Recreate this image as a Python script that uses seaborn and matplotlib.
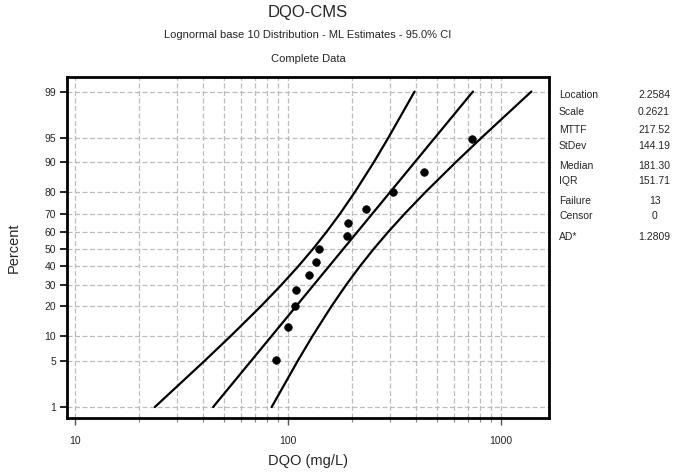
import numpy as np
import matplotlib
matplotlib.use("Agg")
import matplotlib.pyplot as plt
import seaborn as sns
import pandas as pd
from statistics import NormalDist
from matplotlib.ticker import FixedLocator, FixedFormatter, NullFormatter

# ---- data ----
dqo_values = [88, 100, 108, 109, 125, 135, 140, 189, 192, 232, 312, 435, 728]
dqo_percent = [5.2, 12.7, 20.1, 27.6, 35.1, 42.5, 50.0, 57.5, 64.9, 72.4, 79.9, 87.3, 94.8]

fit_percent = [1, 99]
fit_x = [44.5, 738]

band_percent = [1, 5, 10, 20, 30, 40, 50, 60, 70, 80, 90, 95, 99]
band_lower = [23.7, 40.6, 53.7, 74.5, 93.1, 111.5, 130.6, 151.4, 175.4, 205.7, 252.5, 295.8, 392.7]
band_upper = [83.8, 111.1, 130.2, 159.8, 187.5, 217.2, 251.7, 294.8, 352.9, 441.3, 611.9, 809.2, 1388]

y_ticks = [1, 5, 10, 20, 30, 40, 50, 60, 70, 80, 90, 95, 99]
x_major = [10, 100, 1000]
x_minor = [20, 30, 40, 50, 60, 70, 80, 90, 200, 300, 400, 500, 600, 700, 800, 900]

stat_labels = ["Location", "Scale", "MTTF", "StDev", "Median", "IQR", "Failure", "Censor", "AD*"]
stat_values = ["2.2584", "0.2621", "217.52", "144.19", "181.30", "151.71", "13", "0", "1.2809"]

title = "DQO-CMS"
subtitle = "Lognormal base 10 Distribution - ML Estimates - 95.0% CI"
subtitle2 = "Complete Data"
x_label = "DQO (mg/L)"
y_label = "Percent"

# ---- style ----
sns.set_theme(style="white")
plt.rcParams["font.family"] = ["Liberation Sans", "DejaVu Sans"]

W, H = 673, 474
fig = plt.figure(figsize=(W / 100, H / 100), dpi=100)
ax = fig.add_axes([67 / W, 1 - 418 / H, (549 - 67) / W, (418 - 77) / H])

nd = NormalDist()


def fwd(p):
    p = np.clip(np.asarray(p, dtype=float) / 100.0, 1e-9, 1 - 1e-9)
    return np.array([nd.inv_cdf(v) for v in p.ravel()]).reshape(p.shape)


def inv(z):
    z = np.asarray(z, dtype=float)
    return np.array([nd.cdf(v) for v in z.ravel()]).reshape(z.shape) * 100.0


ax.set_xscale("log")
ax.set_yscale("function", functions=(fwd, inv))

# grid
grid_kw = dict(color="#bdbdbd", linestyle=(0, (4, 2)), linewidth=0.9, zorder=0)
for xv in x_major + x_minor:
    ax.axvline(xv, **grid_kw)
for yv in y_ticks:
    ax.axhline(yv, **grid_kw)

band_df = pd.DataFrame({"pct": band_percent, "lo": band_lower, "hi": band_upper})
fit_df = pd.DataFrame({"pct": fit_percent, "x": fit_x})
pts_df = pd.DataFrame({"x": dqo_values, "pct": dqo_percent})

line_kw = dict(color="black", linewidth=1.6, sort=False, estimator=None, zorder=3)
sns.lineplot(data=band_df, x="lo", y="pct", ax=ax, **line_kw)
sns.lineplot(data=band_df, x="hi", y="pct", ax=ax, **line_kw)
sns.lineplot(data=fit_df, x="x", y="pct", ax=ax, **line_kw)
sns.scatterplot(data=pts_df, x="x", y="pct", ax=ax, color="black", s=30,
                marker="o", edgecolor="black", linewidth=0.5, zorder=4)

ax.set_xlim(9.17, 1680)
ax.set_ylim(0.642, 99.448)

ax.xaxis.set_major_locator(FixedLocator(x_major))
ax.xaxis.set_major_formatter(FixedFormatter([str(v) for v in x_major]))
ax.xaxis.set_minor_locator(FixedLocator(x_minor))
ax.xaxis.set_minor_formatter(NullFormatter())
ax.yaxis.set_major_locator(FixedLocator(y_ticks))
ax.yaxis.set_major_formatter(FixedFormatter([str(v) for v in y_ticks]))
ax.yaxis.set_minor_locator(FixedLocator([]))

ax.tick_params(axis="x", which="major", direction="out", length=5, width=1,
               color="#555555", labelsize=7.5, pad=8, bottom=True)
ax.tick_params(axis="x", which="minor", direction="out", length=3, width=0.8,
               color="#888888", bottom=True)
ax.tick_params(axis="y", which="major", direction="out", length=5, width=1.2,
               color="black", labelsize=7.5, pad=3, left=True)

for s in ax.spines.values():
    s.set_color("black")
    s.set_linewidth(2.0)

ax.set_xlabel("")
ax.set_ylabel("")
fig.text(308 / W, 1 - 461 / H, x_label, ha="center", va="center", fontsize=10.5)
fig.text(14 / W, 1 - 248 / H, y_label, ha="center", va="center", fontsize=10.5, rotation=90)

fig.text(308 / W, 1 - 13 / H, title, ha="center", va="center", fontsize=12)
fig.text(308 / W, 1 - 35 / H, subtitle, ha="center", va="center", fontsize=8)
fig.text(308 / W, 1 - 59 / H, subtitle2, ha="center", va="center", fontsize=8)

row_y = [95, 111.5, 130, 146, 166, 181.5, 201.5, 216.5, 237]
for lab, val, yy in zip(stat_labels, stat_values, row_y):
    fig.text(559 / W, 1 - yy / H, lab, ha="left", va="center", fontsize=7.5)
    if val in ("13", "0"):
        fig.text(655 / W, 1 - yy / H, val, ha="center", va="center", fontsize=7.5)
    else:
        fig.text(670 / W, 1 - yy / H, val, ha="right", va="center", fontsize=7.5)

fig.savefig("out.png", dpi=100)
